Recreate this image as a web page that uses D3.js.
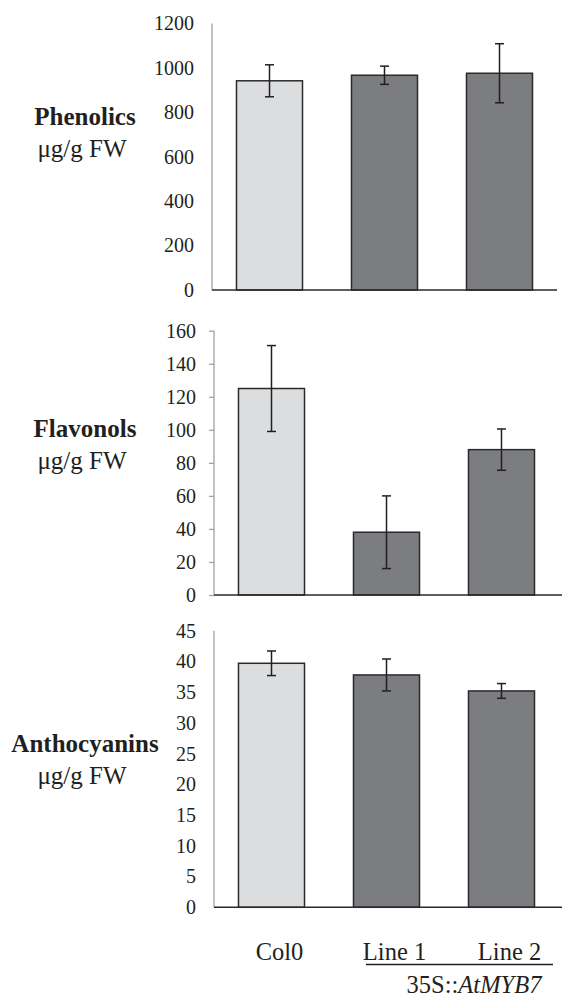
<!DOCTYPE html>
<html>
<head>
<meta charset="utf-8">
<script src="https://cdn.jsdelivr.net/npm/d3@7"></script>
<style>
  body { margin: 0; background: #fff; }
  text { font-family: "Liberation Serif", "Times New Roman", serif; fill: #231f20; }
</style>
</head>
<body>
<script>
const groups = ['Col0', 'Line 1', 'Line 2']

const phenolics = [942, 967, 976]
const phenolicsErr = [72, 41, 133]
const flavonols = [125, 38, 88]
const flavonolsErr = [26, 22, 12.5]
const anthocyanins = [39.7, 37.8, 35.2]
const anthocyaninsErr = [2.0, 2.6, 1.2]

const phenolicsTicks = [0, 200, 400, 600, 800, 1000, 1200]
const flavonolsTicks = [0, 20, 40, 60, 80, 100, 120, 140, 160]
const anthocyaninsTicks = [0, 5, 10, 15, 20, 25, 30, 35, 40, 45]

const width = 562
const height = 1001
const fills = ['#dcdddf', '#7c7d81', '#7c7d81']

const svg = d3.select('body').append('svg').attr('width', width).attr('height', height)

// one panel per compound
const panels = [
    { name: 'Phenolics', values: phenolics, err: phenolicsErr, ticks: phenolicsTicks, top: 23.5, bottom: 290, x0: 212, x1: 557, lineEnd: 557, tickSize: 0, nameY: 125 },
    { name: 'Flavonols', values: flavonols, err: flavonolsErr, ticks: flavonolsTicks, top: 330.7, bottom: 595, x0: 214, x1: 559, lineEnd: 562, tickSize: 5, nameY: 437 },
    { name: 'Anthocyanins', values: anthocyanins, err: anthocyaninsErr, ticks: anthocyaninsTicks, top: 630.7, bottom: 907.3, x0: 214, x1: 559, lineEnd: 562, tickSize: 0, nameY: 752 }
]

let lastX = null

panels.forEach((p) => {
    const xScale = d3.scaleBand().domain(groups).range([p.x0, p.x1])
    const yScale = d3.scaleLinear().domain([0, d3.max(p.ticks)]).range([p.bottom, p.top])
    lastX = xScale

    const yAxis = d3.axisLeft(yScale).tickValues(p.ticks).tickSize(p.tickSize).tickPadding(18 - p.tickSize).tickFormat(d3.format('d'))
    const g = svg.append('g').attr('transform', `translate(${p.x0},0)`).call(yAxis)
    g.select('.domain').attr('stroke', '#a3a3a3').attr('stroke-width', 1.3).attr('d', `M0,${p.top}V${p.bottom}`)
    g.selectAll('.tick line').attr('stroke', '#a3a3a3').attr('stroke-width', 1.3)
    g.selectAll('.tick text').style('font-size', '20px').attr('fill', '#231f20')

    const barW = xScale.bandwidth() * 0.574

    svg.append('g').selectAll('rect')
    .data(p.values)
    .enter()
    .append('rect')
    .attr('x', (d, i) => xScale(groups[i]) + (xScale.bandwidth() - barW) / 2)
    .attr('y', (d) => yScale(d))
    .attr('width', barW)
    .attr('height', (d) => yScale(0) - yScale(d))
    .attr('fill', (d, i) => fills[i])
    .attr('stroke', '#2a2a2a')
    .attr('stroke-width', 1.5)

    // error bars
    const eb = svg.append('g').attr('stroke', '#231f20').attr('stroke-width', 1.5)
    p.values.forEach((v, i) => {
        const cx = xScale(groups[i]) + xScale.bandwidth() / 2
        const hi = yScale(v + p.err[i])
        const lo = yScale(v - p.err[i])
        eb.append('line').attr('x1', cx).attr('x2', cx).attr('y1', hi).attr('y2', lo)
        eb.append('line').attr('x1', cx - 4.5).attr('x2', cx + 4.5).attr('y1', hi).attr('y2', hi)
        eb.append('line').attr('x1', cx - 4.5).attr('x2', cx + 4.5).attr('y1', lo).attr('y2', lo)
    })

    // baseline
    svg.append('line').attr('x1', p.x0).attr('x2', p.lineEnd).attr('y1', yScale(0)).attr('y2', yScale(0))
    .attr('stroke', '#2a2a2a').attr('stroke-width', 1.5)

    svg.append('text').text(p.name).attr('x', 85).attr('y', p.nameY)
    .attr('text-anchor', 'middle').style('font-size', '25px').style('font-weight', 'bold')
    svg.append('text').text('μg/g FW').attr('x', 82).attr('y', p.nameY + 32)
    .attr('text-anchor', 'middle').style('font-size', '25px')
})

// category labels under the last panel
svg.append('g').selectAll('text')
.data(groups)
.enter()
.append('text')
.text((d) => d)
.attr('x', (d) => lastX(d) + lastX.bandwidth() / 2 + 8)
.attr('y', 960)
.attr('text-anchor', 'middle')
.style('font-size', '24.5px')

svg.append('line').attr('x1', 366).attr('x2', 553).attr('y1', 964.5).attr('y2', 964.5)
.attr('stroke', '#231f20').attr('stroke-width', 1.5)

const construct = svg.append('text').attr('x', 474).attr('y', 993).attr('text-anchor', 'middle').style('font-size', '24.5px')
construct.append('tspan').text('35S::')
construct.append('tspan').text('AtMYB7').style('font-style', 'italic')
</script>
</body>
</html>
